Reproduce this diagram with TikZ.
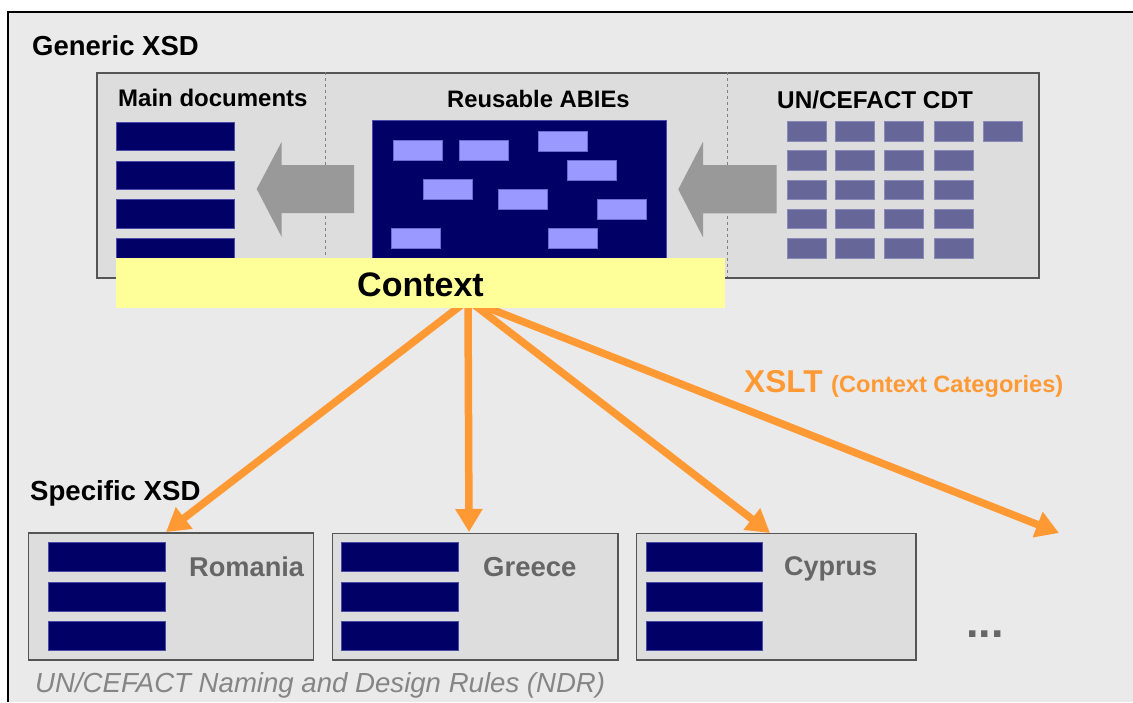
\documentclass[tikz,border=0pt]{standalone}
\usepackage{fontspec}
\setmainfont{Liberation Sans}
\usetikzlibrary{arrows.meta}
\definecolor{bgc}{HTML}{EAEAEA}
\definecolor{boxfill}{HTML}{DDDDDD}
\definecolor{boxline}{HTML}{555555}
\definecolor{navy}{HTML}{000066}
\definecolor{navyline}{HTML}{4A4AA8}
\definecolor{lblue}{HTML}{9999FF}
\definecolor{cdtc}{HTML}{666699}
\definecolor{cdtline}{HTML}{8A8AB8}
\definecolor{garrow}{HTML}{999999}
\definecolor{ctxy}{HTML}{FFFF99}
\definecolor{orng}{HTML}{FF9933}
\definecolor{gtext}{HTML}{666666}
\definecolor{ndrtext}{HTML}{858585}
\tikzset{
  box/.style={draw=boxline, fill=boxfill, line width=1.5pt, inner sep=0pt, anchor=north west},
  bar/.style={fill=navy, draw=navyline, line width=0.6pt, inner sep=0pt, anchor=north west, minimum width=118pt, minimum height=28.5pt},
  sbar/.style={bar, minimum width=116.5pt, minimum height=29pt},
  lbar/.style={fill=lblue, draw=lblue!70!navy, line width=0.5pt, inner sep=0pt, anchor=north west, minimum width=49pt, minimum height=19.5pt},
  cdt/.style={fill=cdtc, draw=cdtline, line width=0.5pt, inner sep=0pt, anchor=north west, minimum width=39pt, minimum height=19.3pt},
  lbl/.style={inner sep=0pt, anchor=base west},
  hd/.style={lbl, font=\fontsize{#1}{#1}\selectfont\bfseries},
  flow/.style={draw=orng, line width=7.5pt, -{Triangle[length=23pt,width=26pt]}},
  bigarrow/.style={fill=garrow}
}
\begin{document}
\begin{tikzpicture}[x=1pt,y=-1pt]
\useasboundingbox (0,0) rectangle (1133,702);
\fill[white] (0,0) rectangle (1133,702);
% outer frame (open to the right and bottom)
\fill[bgc] (8,12) rectangle (1133,702);
\draw[line width=1.5pt, black] (8,702) -- (8,12) -- (1133,12);
\node[hd=27.5] (generic) at (32,55) {Generic XSD};

% top box
\node[box, minimum width=942pt, minimum height=205pt] (top) at (96,72) {};
\draw[dashed, draw=gray, line width=0.8pt] (325,72) -- (325,277);
\draw[dashed, draw=gray, line width=0.8pt] (727,72) -- (727,277);

\node[hd=24] (maintitle) at (118,106) {Main documents};
\node[hd=23.8] (abietitle) at (447,107) {Reusable ABIEs};
\node[hd=24.3] (cdttitle) at (777,108) {UN/CEFACT CDT};

% main document bars
\node[bar] (m1) at (116,121.7) {};
\node[bar] (m2) at (116,160.7) {};
\node[bar] (m3) at (116,199.3) {};
\node[bar] (m4) at (116,238) {};

% reusable ABIEs
\node[fill=navy, draw=navyline, line width=0.6pt, inner sep=0pt, anchor=north west, minimum width=294pt, minimum height=140pt] (abie) at (371.7,120.3) {};
\node[lbar] (a1) at (393.3,140.3) {};
\node[lbar] (a2) at (459.3,140.3) {};
\node[lbar] (a3) at (538.3,131) {};
\node[lbar] (a4) at (567.3,160) {};
\node[lbar] (a5) at (422.7,179.3) {};
\node[lbar] (a6) at (498.3,189.3) {};
\node[lbar] (a7) at (596.7,199) {};
\node[lbar] (a8) at (391,228.3) {};
\node[lbar] (a9) at (548.3,228.3) {};

% CDT grid
\foreach \c/\x in {1/786.7,2/835.3,3/884,4/933.7}{
  \foreach \r/\y in {1/121.3,2/150.3,3/179.7,4/209,5/238.3}{
    \node[cdt] (c\r\c) at (\x,\y) {};
  }
}
\node[cdt] (c15) at (982.7,121.3) {};

% grey block arrows
\fill[bigarrow] (256.7,189) -- (281.7,141.7) -- (281.7,165) -- (354,165) -- (354,213) -- (281.7,213) -- (281.7,237) -- cycle;
\fill[bigarrow] (678.3,189.3) -- (703,141.7) -- (703,165) -- (776.7,165) -- (776.7,213.3) -- (703,213.3) -- (703,237.3) -- cycle;

% specific XSD
\node[hd=27.6] (specific) at (30,500) {Specific XSD};
\node[box, minimum width=285pt, minimum height=127pt] (ro) at (27.7,532.3) {};
\node[box, minimum width=285.6pt, minimum height=126.6pt] (gr) at (331.7,532.7) {};
\node[box, minimum width=279.3pt, minimum height=126.6pt] (cy) at (635.7,532.7) {};
\foreach \b/\x in {ro/48.3,gr/341,cy/645.7}{
  \node[sbar] (\b1) at (\x,542) {};
  \node[sbar] (\b2) at (\x,581.5) {};
  \node[sbar] (\b3) at (\x,621) {};
}
\node[hd=27.2] (romania) [text=gtext] at (189,576) {Romania};
\node[hd=27.5] (greece) [text=gtext] at (483,576) {Greece};
\node[hd=27] (cyprus) [text=gtext] at (784,575) {Cyprus};
\node[hd=45] (more) [text=gtext] at (966,637) {...};
\node[lbl, font=\fontsize{27.6}{27.6}\selectfont\itshape, text=ndrtext] (ndr) at (35,692) {UN/CEFACT Naming and Design Rules (NDR)};

% orange XSLT arrows
\coordinate (src) at (468,300);
\coordinate (tro) at (166,532);
\coordinate (tgr) at (469,532);
\coordinate (tcy) at (770,533);
\coordinate (tfree) at (1059,533);
\draw[flow] (src) -- (tro);
\draw[flow] (src) -- (tgr);
\draw[flow] (src) -- (tcy);
\draw[flow] (src) -- (tfree);

% context bar
\node[fill=ctxy, inner sep=0pt, anchor=north west, minimum width=609pt, minimum height=50pt] (ctx) at (116,257.3) {};
\node[hd=34] (ctxlabel) at (357,296) {Context};

\node[hd=31.6] (xslt) [text=orng] at (744,392) {XSLT};
\node[hd=23.6] (cats) [text=orng] at (831,392) {(Context Categories)};
\end{tikzpicture}
\end{document}
